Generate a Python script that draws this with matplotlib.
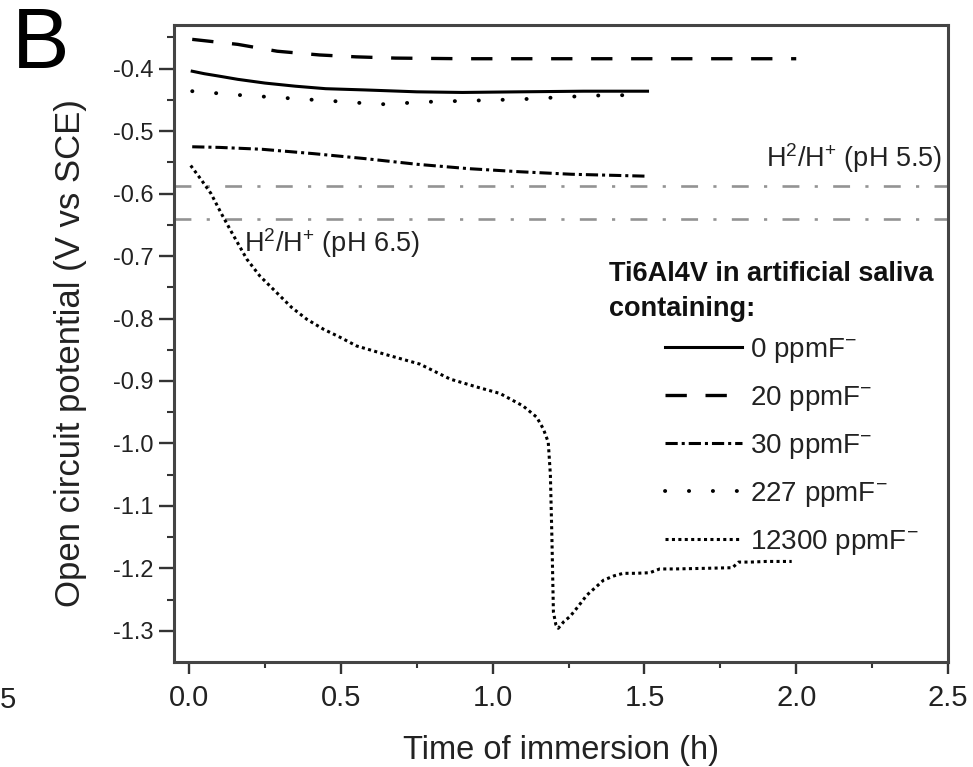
import matplotlib
matplotlib.use("Agg")
import matplotlib.pyplot as plt

plt.rcParams['font.family'] = ['Liberation Sans', 'DejaVu Sans']
plt.rcParams['mathtext.fontset'] = 'custom'
plt.rcParams['mathtext.rm'] = 'Liberation Sans'
plt.rcParams['mathtext.it'] = 'Liberation Sans:italic'
plt.rcParams['mathtext.bf'] = 'Liberation Sans:bold'
plt.rcParams['mathtext.default'] = 'regular'

# time of immersion (h) and open circuit potential (V vs SCE)
t_0 = [0.01, 0.05, 0.1, 0.16, 0.25, 0.35, 0.45, 0.58, 0.75, 0.9, 1.09, 1.3, 1.51]
v_0 = [-0.404, -0.408, -0.412, -0.417, -0.423, -0.428, -0.432, -0.434, -0.437,
       -0.438, -0.437, -0.436, -0.436]

t_20 = [0.01, 0.16, 0.29, 0.43, 0.55, 0.68, 0.9, 1.2, 1.5, 1.8, 2.0]
v_20 = [-0.353, -0.361, -0.372, -0.378, -0.381, -0.383, -0.384, -0.384, -0.384,
        -0.384, -0.384]

t_30 = [0.01, 0.1, 0.24, 0.41, 0.58, 0.75, 0.92, 1.09, 1.26, 1.5]
v_30 = [-0.525, -0.526, -0.529, -0.536, -0.544, -0.553, -0.560, -0.565, -0.569, -0.572]

t_227 = [0.01, 0.16, 0.32, 0.48, 0.63, 0.79, 0.94, 1.09, 1.33, 1.5]
v_227 = [-0.436, -0.442, -0.447, -0.452, -0.457, -0.453, -0.451, -0.449, -0.443, -0.442]

t_12300 = [0.005, 0.04, 0.072, 0.106, 0.14, 0.19, 0.233, 0.283, 0.337, 0.387, 0.442,
           0.497, 0.552, 0.65, 0.76, 0.86, 0.95, 1.024, 1.1, 1.145, 1.167, 1.183,
           1.19, 1.195, 1.2, 1.208, 1.216, 1.235, 1.255, 1.28, 1.31, 1.34, 1.365,
           1.4, 1.43, 1.47, 1.518, 1.55, 1.6, 1.7, 1.79, 1.81, 1.85, 1.9, 1.985]
v_12300 = [-0.555, -0.578, -0.600, -0.632, -0.662, -0.705, -0.732, -0.756, -0.782,
           -0.801, -0.817, -0.830, -0.844, -0.858, -0.873, -0.897, -0.910, -0.920,
           -0.940, -0.958, -0.977, -0.998, -1.05, -1.15, -1.27, -1.29, -1.296,
           -1.285, -1.277, -1.262, -1.243, -1.230, -1.219, -1.212, -1.208, -1.208,
           -1.207, -1.201, -1.201, -1.200, -1.199, -1.190, -1.190, -1.189, -1.189]

# hydrogen equilibrium potentials
h2_levels = [-0.588, -0.641]
h2_labels = [r'H$^{2}$/H$^{+}$ (pH 5.5)', r'H$^{2}$/H$^{+}$ (pH 6.5)']

series_labels = [r'0 ppmF$^{-}$', r'20 ppmF$^{-}$', r'30 ppmF$^{-}$',
                 r'227 ppmF$^{-}$', r'12300 ppmF$^{-}$']

x_ticks = [0.0, 0.5, 1.0, 1.5, 2.0, 2.5]
y_ticks = [-0.4, -0.5, -0.6, -0.7, -0.8, -0.9, -1.0, -1.1, -1.2, -1.3]

fig = plt.figure(figsize=(9.73, 7.67), dpi=100)
ax = fig.add_axes([174/973, 1 - 662/767, 774/973, 637/767])

for lvl in h2_levels:
    ax.axhline(lvl, color='#939393', lw=1.9, dashes=(6.4, 5.8, 1.2, 5.8), zorder=1)

ax.plot(t_0, v_0, color='black', lw=2.2, label=series_labels[0])
ax.plot(t_20, v_20, color='black', lw=2.4, dashes=(6.4, 5.6), label=series_labels[1])
ax.plot(t_30, v_30, color='black', lw=2.2, dashes=(4.0, 1.3, 1.0, 1.3), label=series_labels[2])
ax.plot(t_227, v_227, color='black', lw=2.8, dashes=(0.05, 6.1),
        dash_capstyle='round', label=series_labels[3])
ax.plot(t_12300, v_12300, color='black', lw=2.2, dashes=(1.0, 1.1), label=series_labels[4])

ax.set_xlim(-0.05, 2.5)
ax.set_ylim(-1.35, -0.33)
ax.set_xticks(x_ticks)
ax.set_xticklabels([f'{v:.1f}' for v in x_ticks])
ax.set_yticks(y_ticks)
ax.set_yticklabels([f'{v:.1f}' for v in y_ticks])
ax.set_xticks([0.25, 0.75, 1.25, 1.75, 2.25], minor=True)
ax.set_yticks([-0.35 - 0.1 * i for i in range(10)], minor=True)

ax.tick_params(axis='x', which='major', direction='out', length=8.5, width=1.7,
               pad=7, labelsize=21, colors='#333333', labelcolor='#222222')
ax.tick_params(axis='x', which='minor', direction='out', length=4.5, width=1.5,
               colors='#333333')
ax.tick_params(axis='y', which='major', direction='out', length=11, width=1.7,
               pad=3.6, labelsize=17, colors='#333333', labelcolor='#222222')
ax.tick_params(axis='y', which='minor', direction='out', length=5, width=1.5,
               colors='#333333')
for sp in ax.spines.values():
    sp.set_linewidth(2.2)
    sp.set_color('#444444')

ax.set_xlabel('Time of immersion (h)', fontsize=23.5, color='#222222')
ax.set_ylabel('Open circuit potential (V vs SCE)', fontsize=25, color='#222222')
ax.xaxis.set_label_coords(0.5, -0.114)
ax.yaxis.set_label_coords(-0.112, 0.485)

ax.text(2.48, -0.557, h2_labels[0], fontsize=19.5, ha='right', va='baseline', color='#222222')
ax.text(0.18, -0.694, h2_labels[1], fontsize=19.5, ha='left', va='baseline', color='#222222')

# legend heading, last line baseline given
ax.text(2.451, -0.7957, 'Ti6Al4V in artificial saliva\ncontaining:', fontsize=19.5,
        fontweight='bold', ha='right', va='baseline', multialignment='left',
        linespacing=1.44, color='#111111')

leg = ax.legend(loc='upper left', bbox_to_anchor=(0.634, 0.5116), frameon=False,
                fontsize=20, handlelength=2.77, handletextpad=0.29,
                labelspacing=0.68, borderpad=0, borderaxespad=0)
for txt in leg.get_texts():
    txt.set_color('#222222')

fig.text(12/973, 1 - 68/767, 'B', fontsize=62, ha='left', va='baseline', color='black')
fig.text(0.0, 1 - 708/767, '5', fontsize=21, ha='left', va='baseline', color='#222222')

fig.savefig('out.png', dpi=100)
